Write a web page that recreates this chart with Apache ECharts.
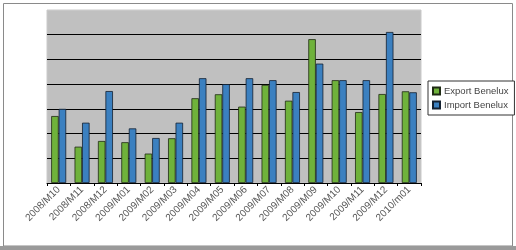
<!DOCTYPE html>
<html><head><meta charset="utf-8">
<script src="https://cdn.jsdelivr.net/npm/echarts@6/dist/echarts.min.js"></script>
<style>html,body{margin:0;padding:0;background:#fff}#c{width:516px;height:250px}</style>
</head><body><div id="c"></div>
<script>
var categories = ['2008/M10','2008/M11','2008/M12','2009/M01','2009/M02','2009/M03','2009/M04','2009/M05','2009/M06','2009/M07','2009/M08','2009/M09','2009/M10','2009/M11','2009/M12','2010/m01'];
var exportBenelux = [2.71,1.47,1.70,1.65,1.19,1.81,3.43,3.59,3.09,3.97,3.33,5.82,4.16,2.87,3.60,3.71];
var importBenelux = [3.00,2.44,3.72,2.21,1.82,2.44,4.24,4.00,4.24,4.16,3.68,4.83,4.16,4.16,6.11,3.67];
var yTicks = [0,1,2,3,4,5,6,7];

var chart = echarts.init(document.getElementById('c'), null, {renderer:'canvas'});
chart.setOption({
  animation:false,
  backgroundColor:'#fff',
  graphic:[
    {type:'rect', shape:{x:3.5,y:3.5,width:509,height:242.5}, style:{fill:'none', stroke:'#8a8a8a', lineWidth:1}, z:-1},
    {type:'rect', shape:{x:0,y:246,width:516,height:4}, style:{fill:'#9a9a9a'}, z:-1}
  ],
  grid:{left:47, right:95, top:10, bottom:67, show:true, backgroundColor:'#c0c0c0', borderColor:'#cacaca', borderWidth:1},
  legend:{
    orient:'vertical', left:428, top:81, width:78,
    padding:[5,6,5,4], itemGap:4, itemWidth:7, itemHeight:7,
    borderColor:'#333', borderWidth:1, backgroundColor:'#fff',
    textStyle:{fontFamily:'Liberation Sans', fontSize:9.5, color:'#444', padding:[0,0,0,-1]},
    icon:'rect',
    data:['Export Benelux','Import Benelux']
  },
  xAxis:{
    type:'category', data:categories,
    axisLine:{show:true, lineStyle:{color:'#000', width:1}},
    axisTick:{show:true, length:3, lineStyle:{color:'#000'}},
    splitLine:{show:false}, splitArea:{show:false},
    axisLabel:{interval:0, rotate:45, margin:5, fontFamily:'Liberation Sans', fontSize:10, color:'#555'}
  },
  yAxis:{
    type:'value', min:yTicks[0], max:yTicks[yTicks.length-1], interval:1,
    axisLine:{show:false}, axisTick:{show:false}, axisLabel:{show:false}, splitArea:{show:false},
    splitLine:{show:true, lineStyle:{color:['#000','#000','#000','#000','#000','#000','#000','#c8c8c8'], width:1}}
  },
  series:[
    {name:'Export Benelux', type:'bar', data:exportBenelux, barWidth:7.5, barGap:'0%',
     itemStyle:{color:'#6fb23b', borderColor:'#1f2a14', borderWidth:0.8}},
    {name:'Import Benelux', type:'bar', data:importBenelux, barWidth:7.5, barGap:'0%',
     itemStyle:{color:'#3b80c0', borderColor:'#132030', borderWidth:0.8}}
  ]
});
</script></body></html>
